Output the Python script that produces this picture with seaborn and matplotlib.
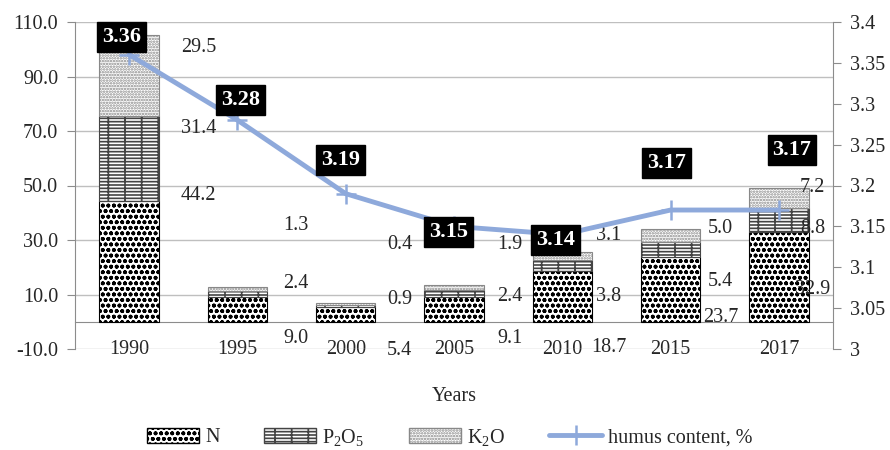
import numpy as np
import pandas as pd
import matplotlib
matplotlib.use("Agg")
import matplotlib.pyplot as plt
import seaborn as sns
from matplotlib.patches import Patch
from matplotlib.lines import Line2D
from matplotlib.ticker import FixedLocator

# ---- data ----
years = ["1990", "1995", "2000", "2005", "2010", "2015", "2017"]
n_vals = [44.2, 9.0, 5.4, 9.1, 18.7, 23.7, 32.9]
p_vals = [31.4, 2.4, 0.9, 2.4, 3.8, 5.4, 8.8]
k_vals = [29.5, 1.3, 0.4, 1.9, 3.1, 5.0, 7.2]
humus = [3.36, 3.28, 3.19, 3.15, 3.14, 3.17, 3.17]

# label anchor positions (as drawn in the original)
n_lab_y = [46.5, -6.0, -10.4, -6.0, -9.3, 1.4, 11.7]
p_lab_y = [71.1, 14.2, 8.0, 9.4, 9.1, 14.6, 34.4]
k_lab_y = [100.5, 35.5, 28.2, 28.2, 31.5, 34.4, 49.1]
lab_dx = [0.64, 0.54, 0.50, 0.52, 0.43, 0.46, 0.31]
h_lab_y = [3.382, 3.305, 3.231, 3.143, 3.133, 3.2275, 3.243]
h_lab_dx = [-0.07, 0.03, -0.05, -0.05, -0.06, -0.04, 0.12]

sns.set_style("white")
plt.rcParams["font.family"] = ["Liberation Serif", "DejaVu Serif"]
plt.rcParams["mathtext.fontset"] = "custom"
plt.rcParams["mathtext.rm"] = "Liberation Serif"
plt.rcParams["mathtext.it"] = "Liberation Serif:italic"
plt.rcParams["hatch.linewidth"] = 1.2

FS = 14.5
GRID = "#BFBFBF"
LINEC = "#8EA9DB"
H_N, H_P, H_K = "ooo", "-----|", "......"

fig = plt.figure(figsize=(8.9, 4.5), dpi=100)
ax = fig.add_axes([75 / 890, 1 - 349 / 450, (833 - 75) / 890, (349 - 22) / 450])

df = pd.DataFrame({"year": years, "N": n_vals, "P": p_vals, "K": k_vals})
df["NP"] = df["N"] + df["P"]
bw = 0.55
sns.barplot(data=df, x="year", y="N", color="white", edgecolor="black",
            linewidth=0.8, width=bw, hatch=H_N, ax=ax, zorder=3)
sns.barplot(data=df, x="year", y="P", bottom=df["N"], color="white", edgecolor="#444444",
            linewidth=0.8, width=bw, hatch=H_P, ax=ax, zorder=3)
sns.barplot(data=df, x="year", y="K", bottom=df["NP"], color="white", edgecolor="#888888",
            linewidth=0.8, width=bw, hatch=H_K, ax=ax, zorder=3)

ax.set_ylim(-10, 110)
ax.set_xlim(-0.5, len(years) - 0.5)
yt = [-10, 10, 30, 50, 70, 90, 110]
ax.yaxis.set_major_locator(FixedLocator(yt))
ax.set_yticklabels([f"{v:.1f}" for v in yt], fontsize=FS)
ax.grid(axis="y", color=GRID, linewidth=1.0, zorder=0)
ax.grid(axis="x", visible=False)
ax.tick_params(axis="y", which="major", length=6, color="#8c8c8c", direction="out", pad=6)
ax.spines["left"].set_color("#8c8c8c")
ax.spines["top"].set_visible(False)
ax.spines["right"].set_visible(False)
ax.spines["bottom"].set_position(("data", 0))
ax.spines["bottom"].set_color("#8c8c8c")
ax.set_xticks(range(len(years)))
ax.set_xticklabels(years, fontsize=FS)
ax.xaxis.set_minor_locator(FixedLocator(np.arange(-0.5, len(years), 1.0)))
ax.tick_params(axis="x", which="major", length=0, pad=13)
ax.tick_params(axis="x", which="minor", length=6, color="#8c8c8c", direction="out")
ax.set_xlabel("Years", fontsize=FS, labelpad=20)
ax.set_ylabel("")

for i in range(len(years)):
    ax.text(i + lab_dx[i], n_lab_y[i], f"{n_vals[i]:.1f}", ha="center", va="center", fontsize=FS, zorder=6)
    ax.text(i + lab_dx[i], p_lab_y[i], f"{p_vals[i]:.1f}", ha="center", va="center", fontsize=FS, zorder=6)
    ax.text(i + lab_dx[i], k_lab_y[i], f"{k_vals[i]:.1f}", ha="center", va="center", fontsize=FS, zorder=6)

ax2 = ax.twinx()
sns.lineplot(x=np.arange(len(years)), y=humus, ax=ax2, color=LINEC, linewidth=3.5,
             marker="+", markersize=14, markeredgewidth=1.8, markeredgecolor=LINEC)
ax2.set_ylim(3, 3.4)
ax2.set_xlim(-0.5, len(years) - 0.5)
rt = [3.0, 3.05, 3.1, 3.15, 3.2, 3.25, 3.3, 3.35, 3.4]
ax2.yaxis.set_major_locator(FixedLocator(rt))
ax2.set_yticklabels([f"{v:g}" for v in rt], fontsize=FS)
ax2.tick_params(axis="y", length=6, color="#8c8c8c", direction="out", pad=6)
for s in ["top", "left", "bottom"]:
    ax2.spines[s].set_visible(False)
ax2.spines["right"].set_color("#8c8c8c")
ax2.set_ylabel("")
ax2.grid(False)
for i in range(len(years)):
    ax2.text(i + h_lab_dx[i], h_lab_y[i], f"{humus[i]:.2f}", ha="center", va="center",
             fontsize=16, fontweight="bold", color="white", zorder=10,
             bbox=dict(boxstyle="square,pad=0.22", facecolor="black", edgecolor="black"))

handles = [
    Patch(facecolor="white", edgecolor="black", hatch=H_N, label="N"),
    Patch(facecolor="white", edgecolor="#444444", hatch=H_P, label="P$_2$O$_5$"),
    Patch(facecolor="white", edgecolor="#888888", hatch=H_K, label="K$_2$O"),
    Line2D([0], [0], color=LINEC, linewidth=3.5, marker="+", markersize=14,
           markeredgewidth=1.8, label="humus content, %"),
]
fig.legend(handles=handles, loc="center", bbox_to_anchor=(0.505, 1 - 437 / 450), ncol=4,
           frameon=False, fontsize=FS, handlelength=2.6, handleheight=0.8,
           columnspacing=2.2, handletextpad=0.3)

fig.savefig("out.png", dpi=100)
